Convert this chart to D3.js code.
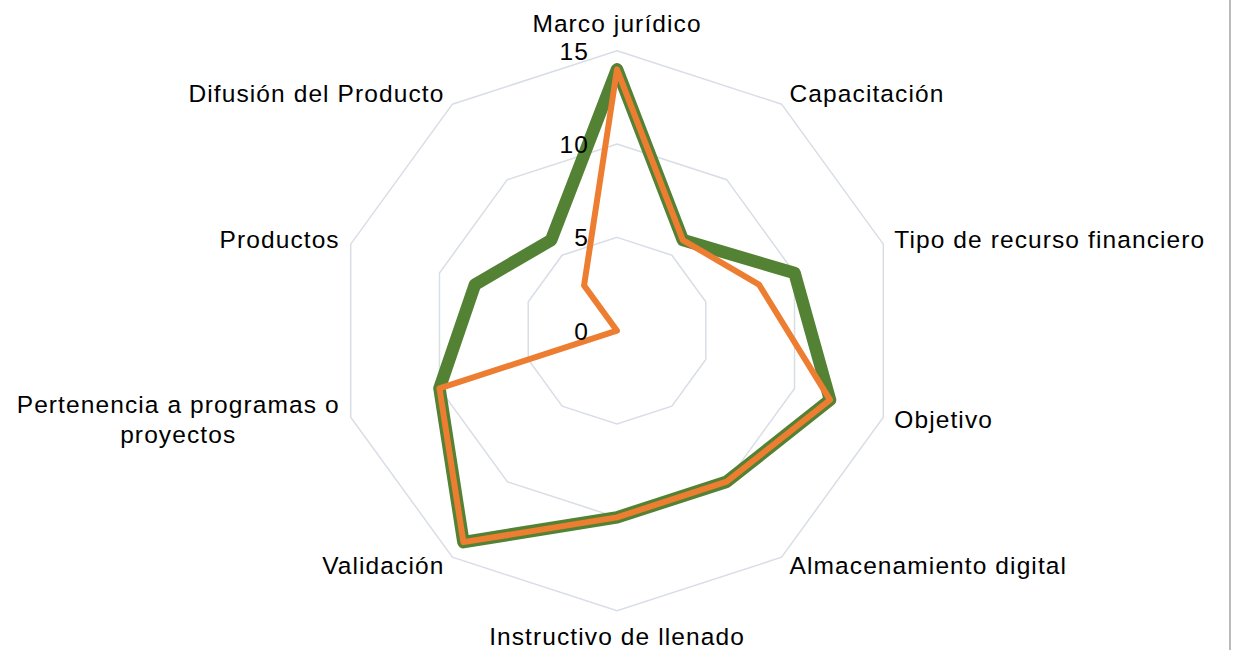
<!DOCTYPE html>
<html>
<head>
<meta charset="utf-8">
<script src="https://cdn.jsdelivr.net/npm/d3@7"></script>
<style>
  html, body { margin: 0; padding: 0; background: #fff; }
  svg text { font-family: "Liberation Sans", Arial, sans-serif; fill: #000; }
</style>
</head>
<body>
<svg id="chart" width="1235" height="650"></svg>
<script>
const categories = [
  "Marco jurídico",
  "Capacitación",
  "Tipo de recurso financiero",
  "Objetivo",
  "Almacenamiento digital",
  "Instructivo de llenado",
  "Validación",
  "Pertenencia a programas o proyectos",
  "Productos",
  "Difusión del Producto"
];
const seriesGreen = [14, 6, 10, 12, 10, 10, 14, 10, 8, 6];
const seriesOrange = [14, 6, 8, 12, 10, 10, 14, 10, 0, 3];
const tickValues = [0, 5, 10, 15];

const svg = d3.select("#chart");
const cx = 617, cy = 330.7, R = 280;
const n = categories.length;
const r = d3.scaleLinear().domain([0, 15]).range([0, R]);
const angle = d3.scaleLinear().domain([0, n]).range([0, 2 * Math.PI]);
const fontSize = 24.5;
const spacing = "1.1px";

const g = svg.append("g").attr("transform", `translate(${cx},${cy})`);

// grid rings
const ringLine = d3.lineRadial().angle((d, i) => angle(i)).radius(d => r(d)).curve(d3.curveLinearClosed);
tickValues.filter(t => t > 0).forEach(t => {
  g.append("path")
    .attr("d", ringLine(d3.range(n).map(() => t)))
    .attr("fill", "none")
    .attr("stroke", "#d9dde5")
    .attr("stroke-width", 1.5);
});

// series
const seriesLine = d3.lineRadial().angle((d, i) => angle(i)).radius(d => r(d)).curve(d3.curveLinearClosed);
g.append("path")
  .attr("d", seriesLine(seriesGreen))
  .attr("fill", "none")
  .attr("stroke", "#548235")
  .attr("stroke-width", 12.5)
  .attr("stroke-linejoin", "round");
g.append("path")
  .attr("d", seriesLine(seriesOrange))
  .attr("fill", "none")
  .attr("stroke", "#ED7D31")
  .attr("stroke-width", 6)
  .attr("stroke-linejoin", "round");

// tick labels
g.selectAll("text.tick").data(tickValues).enter().append("text")
  .attr("class", "tick")
  .attr("x", -28)
  .attr("y", d => -r(d) + 9)
  .attr("text-anchor", "end")
  .style("font-size", fontSize + "px")
  .style("letter-spacing", spacing)
  .text(d => d);

// category labels
categories.forEach((c, i) => {
  const a = angle(i);
  const s = Math.sin(a), co = Math.cos(a);
  const vx = r(15) * s, vy = -r(15) * co;
  let x, y, anchor;
  if (Math.abs(s) < 0.01) {
    anchor = "middle";
    x = vx;
    y = co > 0 ? vy - 19 : vy + 34;
  } else {
    anchor = s > 0 ? "start" : "end";
    const gap = Math.abs(co) > 0.5 ? 8 : 11;
    x = vx + (s > 0 ? gap : -gap);
    y = vy + 7.5 - 11.9 * co;
  }
  const t = g.append("text")
    .attr("text-anchor", anchor)
    .style("font-size", fontSize + "px")
    .style("letter-spacing", spacing);
  if (c === "Pertenencia a programas o proyectos") {
    const lines = ["Pertenencia a programas o", "proyectos"];
    const tmp = t.append("tspan").text(lines[0]);
    const w = tmp.node().getComputedTextLength();
    tmp.remove();
    t.attr("text-anchor", "middle");
    const mid = x - w / 2;
    lines.forEach((l, k) => {
      t.append("tspan").attr("x", mid).attr("y", y - 15 + k * 30).text(l);
    });
  } else {
    t.attr("x", x).attr("y", y).text(c);
  }
});

// right border
svg.append("line")
  .attr("x1", 1230).attr("x2", 1230)
  .attr("y1", 0).attr("y2", 650)
  .attr("stroke", "#8c8c8c")
  .attr("stroke-width", 1.2);
</script>
</body>
</html>
